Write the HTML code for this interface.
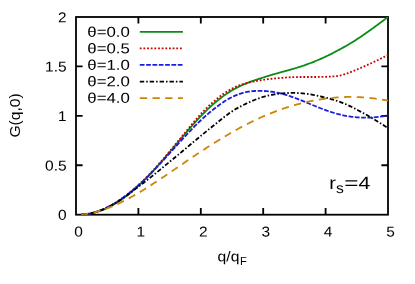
<!DOCTYPE html>
<html><head><meta charset="utf-8"><title>plot</title>
<style>
html,body{margin:0;padding:0;background:#fff;}
svg{display:block;will-change:transform;}
text{font-family:"Liberation Sans",sans-serif;fill:#000;}
</style></head><body>
<svg width="415" height="284" viewBox="0 0 415 284">
<rect x="0" y="0" width="415" height="284" fill="#fff"/>

<g fill="none" stroke="#000" stroke-width="1.8">
<rect x="76.0" y="17.0" width="312.0" height="197.7"/>
<path d="M138.40,214.7 v-6.6 M138.40,17.0 v6.6"/>
<path d="M200.80,214.7 v-6.6 M200.80,17.0 v6.6"/>
<path d="M263.20,214.7 v-6.6 M263.20,17.0 v6.6"/>
<path d="M325.60,214.7 v-6.6 M325.60,17.0 v6.6"/>
<path d="M76.0,165.27 h6.6 M388.0,165.27 h-6.6"/>
<path d="M76.0,115.85 h6.6 M388.0,115.85 h-6.6"/>
<path d="M76.0,66.43 h6.6 M388.0,66.43 h-6.6"/>
</g>
<clipPath id="c"><rect x="76.0" y="17.0" width="312.0" height="197.7"/></clipPath>
<g clip-path="url(#c)" fill="none" stroke-linejoin="round">
<path d="M80.99,214.68 L82.24,214.61 L83.49,214.52 L84.74,214.40 L85.98,214.26 L87.23,214.10 L88.48,213.90 L89.73,213.69 L90.98,213.45 L92.22,213.18 L93.47,212.89 L94.72,212.57 L95.97,212.23 L97.22,211.86 L98.46,211.46 L99.71,211.04 L100.96,210.60 L102.21,210.13 L103.46,209.63 L104.70,209.10 L105.95,208.55 L107.20,207.98 L108.45,207.38 L109.70,206.75 L110.94,206.09 L112.19,205.42 L113.44,204.71 L114.69,203.98 L115.94,203.23 L117.18,202.46 L118.43,201.66 L119.68,200.84 L120.93,199.99 L122.18,199.13 L123.42,198.24 L124.67,197.33 L125.92,196.40 L127.17,195.45 L128.42,194.47 L129.66,193.48 L130.91,192.47 L132.16,191.43 L133.41,190.37 L134.66,189.29 L135.90,188.19 L137.15,187.07 L138.40,185.93 L139.65,184.77 L140.90,183.59 L142.14,182.39 L143.39,181.17 L144.64,179.94 L145.89,178.68 L147.14,177.41 L148.38,176.12 L149.63,174.81 L150.88,173.49 L152.13,172.15 L153.38,170.80 L154.62,169.43 L155.87,168.05 L157.12,166.66 L158.37,165.26 L159.62,163.84 L160.86,162.42 L162.11,160.98 L163.36,159.54 L164.61,158.09 L165.86,156.63 L167.10,155.17 L168.35,153.70 L169.60,152.23 L170.85,150.75 L172.10,149.27 L173.34,147.79 L174.59,146.31 L175.84,144.83 L177.09,143.35 L178.34,141.87 L179.58,140.39 L180.83,138.90 L182.08,137.43 L183.33,135.95 L184.58,134.48 L185.82,133.01 L187.07,131.54 L188.32,130.08 L189.57,128.63 L190.82,127.19 L192.06,125.76 L193.31,124.34 L194.56,122.93 L195.81,121.54 L197.06,120.16 L198.30,118.80 L199.55,117.46 L200.80,116.15 L202.05,114.85 L203.30,113.58 L204.54,112.33 L205.79,111.10 L207.04,109.89 L208.29,108.70 L209.54,107.54 L210.78,106.39 L212.03,105.27 L213.28,104.17 L214.53,103.09 L215.78,102.04 L217.02,101.00 L218.27,99.99 L219.52,98.99 L220.77,98.02 L222.02,97.07 L223.26,96.15 L224.51,95.24 L225.76,94.37 L227.01,93.51 L228.26,92.68 L229.50,91.88 L230.75,91.10 L232.00,90.35 L233.25,89.62 L234.50,88.92 L235.74,88.24 L236.99,87.59 L238.24,86.96 L239.49,86.35 L240.74,85.76 L241.98,85.19 L243.23,84.64 L244.48,84.10 L245.73,83.58 L246.98,83.08 L248.22,82.59 L249.47,82.12 L250.72,81.65 L251.97,81.20 L253.22,80.76 L254.46,80.33 L255.71,79.90 L256.96,79.49 L258.21,79.08 L259.46,78.68 L260.70,78.28 L261.95,77.89 L263.20,77.50 L264.45,77.11 L265.70,76.72 L266.94,76.34 L268.19,75.96 L269.44,75.58 L270.69,75.20 L271.94,74.83 L273.18,74.46 L274.43,74.10 L275.68,73.74 L276.93,73.38 L278.18,73.03 L279.42,72.68 L280.67,72.33 L281.92,71.99 L283.17,71.64 L284.42,71.30 L285.66,70.96 L286.91,70.62 L288.16,70.28 L289.41,69.93 L290.66,69.58 L291.90,69.23 L293.15,68.87 L294.40,68.50 L295.65,68.13 L296.90,67.75 L298.14,67.36 L299.39,66.96 L300.64,66.56 L301.89,66.15 L303.14,65.73 L304.38,65.30 L305.63,64.86 L306.88,64.41 L308.13,63.96 L309.38,63.50 L310.62,63.02 L311.87,62.54 L313.12,62.05 L314.37,61.55 L315.62,61.04 L316.86,60.52 L318.11,60.00 L319.36,59.46 L320.61,58.91 L321.86,58.36 L323.10,57.79 L324.35,57.22 L325.60,56.64 L326.85,56.05 L328.10,55.45 L329.34,54.84 L330.59,54.22 L331.84,53.59 L333.09,52.96 L334.34,52.31 L335.58,51.66 L336.83,51.00 L338.08,50.33 L339.33,49.66 L340.58,48.98 L341.82,48.29 L343.07,47.59 L344.32,46.88 L345.57,46.17 L346.82,45.45 L348.06,44.72 L349.31,43.98 L350.56,43.23 L351.81,42.47 L353.06,41.71 L354.30,40.93 L355.55,40.14 L356.80,39.34 L358.05,38.53 L359.30,37.71 L360.54,36.88 L361.79,36.04 L363.04,35.19 L364.29,34.33 L365.54,33.46 L366.78,32.59 L368.03,31.70 L369.28,30.81 L370.53,29.92 L371.78,29.02 L373.02,28.11 L374.27,27.20 L375.52,26.29 L376.77,25.37 L378.02,24.44 L379.26,23.52 L380.51,22.59 L381.76,21.66 L383.01,20.73 L384.26,19.80 L385.50,18.86 L386.75,17.93 L388.00,17.00" stroke="#0a8c14" stroke-width="1.8"/>
<path d="M80.99,214.66 L82.24,214.58 L83.49,214.47 L84.74,214.34 L85.98,214.17 L87.23,213.99 L88.48,213.77 L89.73,213.53 L90.98,213.26 L92.22,212.97 L93.47,212.65 L94.72,212.30 L95.97,211.92 L97.22,211.52 L98.46,211.10 L99.71,210.64 L100.96,210.17 L102.21,209.66 L103.46,209.13 L104.70,208.57 L105.95,207.99 L107.20,207.39 L108.45,206.75 L109.70,206.09 L110.94,205.41 L112.19,204.70 L113.44,203.97 L114.69,203.22 L115.94,202.45 L117.18,201.65 L118.43,200.83 L119.68,199.99 L120.93,199.13 L122.18,198.24 L123.42,197.34 L124.67,196.42 L125.92,195.48 L127.17,194.53 L128.42,193.55 L129.66,192.55 L130.91,191.53 L132.16,190.50 L133.41,189.45 L134.66,188.37 L135.90,187.28 L137.15,186.17 L138.40,185.04 L139.65,183.90 L140.90,182.73 L142.14,181.55 L143.39,180.35 L144.64,179.13 L145.89,177.89 L147.14,176.64 L148.38,175.37 L149.63,174.08 L150.88,172.77 L152.13,171.44 L153.38,170.10 L154.62,168.75 L155.87,167.37 L157.12,165.98 L158.37,164.58 L159.62,163.16 L160.86,161.73 L162.11,160.29 L163.36,158.83 L164.61,157.37 L165.86,155.90 L167.10,154.42 L168.35,152.93 L169.60,151.44 L170.85,149.94 L172.10,148.43 L173.34,146.93 L174.59,145.41 L175.84,143.90 L177.09,142.38 L178.34,140.86 L179.58,139.33 L180.83,137.81 L182.08,136.28 L183.33,134.75 L184.58,133.22 L185.82,131.69 L187.07,130.16 L188.32,128.64 L189.57,127.12 L190.82,125.61 L192.06,124.10 L193.31,122.62 L194.56,121.14 L195.81,119.68 L197.06,118.25 L198.30,116.83 L199.55,115.44 L200.80,114.07 L202.05,112.73 L203.30,111.42 L204.54,110.14 L205.79,108.88 L207.04,107.65 L208.29,106.45 L209.54,105.28 L210.78,104.12 L212.03,103.00 L213.28,101.89 L214.53,100.82 L215.78,99.76 L217.02,98.73 L218.27,97.72 L219.52,96.74 L220.77,95.78 L222.02,94.85 L223.26,93.95 L224.51,93.08 L225.76,92.24 L227.01,91.44 L228.26,90.66 L229.50,89.93 L230.75,89.23 L232.00,88.57 L233.25,87.94 L234.50,87.36 L235.74,86.81 L236.99,86.29 L238.24,85.81 L239.49,85.35 L240.74,84.92 L241.98,84.51 L243.23,84.13 L244.48,83.77 L245.73,83.42 L246.98,83.09 L248.22,82.78 L249.47,82.47 L250.72,82.18 L251.97,81.90 L253.22,81.64 L254.46,81.38 L255.71,81.14 L256.96,80.90 L258.21,80.68 L259.46,80.46 L260.70,80.25 L261.95,80.06 L263.20,79.87 L264.45,79.69 L265.70,79.52 L266.94,79.35 L268.19,79.19 L269.44,79.04 L270.69,78.90 L271.94,78.76 L273.18,78.63 L274.43,78.50 L275.68,78.38 L276.93,78.26 L278.18,78.15 L279.42,78.03 L280.67,77.93 L281.92,77.82 L283.17,77.73 L284.42,77.63 L285.66,77.54 L286.91,77.46 L288.16,77.38 L289.41,77.31 L290.66,77.25 L291.90,77.19 L293.15,77.14 L294.40,77.10 L295.65,77.07 L296.90,77.04 L298.14,77.02 L299.39,77.01 L300.64,77.00 L301.89,76.99 L303.14,76.99 L304.38,76.99 L305.63,76.99 L306.88,77.00 L308.13,77.00 L309.38,77.00 L310.62,77.00 L311.87,77.00 L313.12,77.00 L314.37,76.99 L315.62,76.98 L316.86,76.97 L318.11,76.95 L319.36,76.94 L320.61,76.92 L321.86,76.89 L323.10,76.87 L324.35,76.84 L325.60,76.80 L326.85,76.77 L328.10,76.73 L329.34,76.67 L330.59,76.61 L331.84,76.53 L333.09,76.44 L334.34,76.33 L335.58,76.19 L336.83,76.03 L338.08,75.84 L339.33,75.62 L340.58,75.36 L341.82,75.07 L343.07,74.75 L344.32,74.39 L345.57,74.00 L346.82,73.58 L348.06,73.14 L349.31,72.67 L350.56,72.19 L351.81,71.69 L353.06,71.18 L354.30,70.65 L355.55,70.12 L356.80,69.59 L358.05,69.05 L359.30,68.51 L360.54,67.97 L361.79,67.43 L363.04,66.88 L364.29,66.33 L365.54,65.78 L366.78,65.22 L368.03,64.66 L369.28,64.10 L370.53,63.53 L371.78,62.96 L373.02,62.38 L374.27,61.80 L375.52,61.21 L376.77,60.61 L378.02,60.01 L379.26,59.41 L380.51,58.79 L381.76,58.17 L383.01,57.54 L384.26,56.91 L385.50,56.27 L386.75,55.62 L388.00,54.96" stroke="#c80000" stroke-width="1.8" stroke-dasharray="1.8 1.85"/>
<path d="M80.99,214.67 L82.24,214.59 L83.49,214.48 L84.74,214.35 L85.98,214.18 L87.23,213.99 L88.48,213.78 L89.73,213.53 L90.98,213.26 L92.22,212.97 L93.47,212.64 L94.72,212.29 L95.97,211.92 L97.22,211.51 L98.46,211.09 L99.71,210.63 L100.96,210.15 L102.21,209.65 L103.46,209.12 L104.70,208.57 L105.95,207.99 L107.20,207.39 L108.45,206.76 L109.70,206.11 L110.94,205.43 L112.19,204.73 L113.44,204.01 L114.69,203.27 L115.94,202.50 L117.18,201.71 L118.43,200.90 L119.68,200.07 L120.93,199.21 L122.18,198.34 L123.42,197.45 L124.67,196.53 L125.92,195.60 L127.17,194.64 L128.42,193.67 L129.66,192.68 L130.91,191.67 L132.16,190.64 L133.41,189.59 L134.66,188.53 L135.90,187.45 L137.15,186.35 L138.40,185.24 L139.65,184.11 L140.90,182.97 L142.14,181.81 L143.39,180.64 L144.64,179.45 L145.89,178.25 L147.14,177.04 L148.38,175.81 L149.63,174.57 L150.88,173.31 L152.13,172.04 L153.38,170.76 L154.62,169.47 L155.87,168.17 L157.12,166.85 L158.37,165.53 L159.62,164.20 L160.86,162.86 L162.11,161.51 L163.36,160.16 L164.61,158.80 L165.86,157.43 L167.10,156.06 L168.35,154.69 L169.60,153.31 L170.85,151.94 L172.10,150.56 L173.34,149.18 L174.59,147.81 L175.84,146.43 L177.09,145.05 L178.34,143.68 L179.58,142.31 L180.83,140.95 L182.08,139.59 L183.33,138.23 L184.58,136.89 L185.82,135.54 L187.07,134.21 L188.32,132.88 L189.57,131.56 L190.82,130.26 L192.06,128.96 L193.31,127.68 L194.56,126.41 L195.81,125.15 L197.06,123.91 L198.30,122.69 L199.55,121.49 L200.80,120.30 L202.05,119.13 L203.30,117.98 L204.54,116.85 L205.79,115.74 L207.04,114.65 L208.29,113.58 L209.54,112.52 L210.78,111.49 L212.03,110.47 L213.28,109.47 L214.53,108.49 L215.78,107.53 L217.02,106.58 L218.27,105.66 L219.52,104.75 L220.77,103.87 L222.02,103.01 L223.26,102.17 L224.51,101.35 L225.76,100.57 L227.01,99.81 L228.26,99.08 L229.50,98.38 L230.75,97.71 L232.00,97.07 L233.25,96.46 L234.50,95.89 L235.74,95.36 L236.99,94.85 L238.24,94.38 L239.49,93.94 L240.74,93.53 L241.98,93.15 L243.23,92.81 L244.48,92.49 L245.73,92.20 L246.98,91.95 L248.22,91.72 L249.47,91.52 L250.72,91.35 L251.97,91.21 L253.22,91.09 L254.46,90.99 L255.71,90.92 L256.96,90.88 L258.21,90.85 L259.46,90.84 L260.70,90.86 L261.95,90.89 L263.20,90.94 L264.45,91.01 L265.70,91.09 L266.94,91.19 L268.19,91.31 L269.44,91.44 L270.69,91.59 L271.94,91.76 L273.18,91.95 L274.43,92.15 L275.68,92.38 L276.93,92.62 L278.18,92.88 L279.42,93.16 L280.67,93.46 L281.92,93.77 L283.17,94.11 L284.42,94.46 L285.66,94.82 L286.91,95.20 L288.16,95.60 L289.41,96.01 L290.66,96.43 L291.90,96.86 L293.15,97.31 L294.40,97.76 L295.65,98.23 L296.90,98.70 L298.14,99.18 L299.39,99.67 L300.64,100.16 L301.89,100.66 L303.14,101.17 L304.38,101.68 L305.63,102.19 L306.88,102.70 L308.13,103.22 L309.38,103.73 L310.62,104.24 L311.87,104.76 L313.12,105.27 L314.37,105.78 L315.62,106.28 L316.86,106.78 L318.11,107.28 L319.36,107.77 L320.61,108.25 L321.86,108.73 L323.10,109.20 L324.35,109.66 L325.60,110.12 L326.85,110.56 L328.10,111.00 L329.34,111.42 L330.59,111.84 L331.84,112.24 L333.09,112.64 L334.34,113.01 L335.58,113.38 L336.83,113.74 L338.08,114.08 L339.33,114.40 L340.58,114.71 L341.82,115.01 L343.07,115.29 L344.32,115.55 L345.57,115.80 L346.82,116.03 L348.06,116.25 L349.31,116.45 L350.56,116.64 L351.81,116.81 L353.06,116.96 L354.30,117.10 L355.55,117.22 L356.80,117.33 L358.05,117.43 L359.30,117.50 L360.54,117.57 L361.79,117.61 L363.04,117.65 L364.29,117.67 L365.54,117.67 L366.78,117.66 L368.03,117.63 L369.28,117.59 L370.53,117.54 L371.78,117.47 L373.02,117.39 L374.27,117.29 L375.52,117.18 L376.77,117.06 L378.02,116.92 L379.26,116.77 L380.51,116.61 L381.76,116.43 L383.01,116.24 L384.26,116.04 L385.50,115.82 L386.75,115.60 L388.00,115.36" stroke="#1c1cdc" stroke-width="1.8" stroke-dasharray="4.75 1.58"/>
<path d="M80.99,214.62 L82.24,214.54 L83.49,214.43 L84.74,214.30 L85.98,214.14 L87.23,213.96 L88.48,213.75 L89.73,213.52 L90.98,213.26 L92.22,212.97 L93.47,212.66 L94.72,212.33 L95.97,211.97 L97.22,211.59 L98.46,211.17 L99.71,210.74 L100.96,210.28 L102.21,209.79 L103.46,209.28 L104.70,208.74 L105.95,208.17 L107.20,207.58 L108.45,206.97 L109.70,206.33 L110.94,205.66 L112.19,204.97 L113.44,204.26 L114.69,203.53 L115.94,202.78 L117.18,202.00 L118.43,201.21 L119.68,200.40 L120.93,199.57 L122.18,198.72 L123.42,197.86 L124.67,196.98 L125.92,196.09 L127.17,195.19 L128.42,194.27 L129.66,193.35 L130.91,192.41 L132.16,191.48 L133.41,190.53 L134.66,189.58 L135.90,188.63 L137.15,187.68 L138.40,186.73 L139.65,185.77 L140.90,184.82 L142.14,183.87 L143.39,182.92 L144.64,181.96 L145.89,181.01 L147.14,180.05 L148.38,179.08 L149.63,178.11 L150.88,177.14 L152.13,176.15 L153.38,175.16 L154.62,174.17 L155.87,173.16 L157.12,172.15 L158.37,171.13 L159.62,170.10 L160.86,169.07 L162.11,168.04 L163.36,167.00 L164.61,165.96 L165.86,164.92 L167.10,163.89 L168.35,162.85 L169.60,161.82 L170.85,160.78 L172.10,159.75 L173.34,158.73 L174.59,157.70 L175.84,156.68 L177.09,155.65 L178.34,154.63 L179.58,153.60 L180.83,152.58 L182.08,151.55 L183.33,150.52 L184.58,149.48 L185.82,148.45 L187.07,147.40 L188.32,146.36 L189.57,145.31 L190.82,144.26 L192.06,143.22 L193.31,142.17 L194.56,141.12 L195.81,140.07 L197.06,139.03 L198.30,137.99 L199.55,136.95 L200.80,135.92 L202.05,134.89 L203.30,133.87 L204.54,132.85 L205.79,131.83 L207.04,130.82 L208.29,129.81 L209.54,128.80 L210.78,127.79 L212.03,126.79 L213.28,125.78 L214.53,124.77 L215.78,123.77 L217.02,122.76 L218.27,121.75 L219.52,120.75 L220.77,119.74 L222.02,118.75 L223.26,117.77 L224.51,116.80 L225.76,115.84 L227.01,114.91 L228.26,113.99 L229.50,113.10 L230.75,112.24 L232.00,111.40 L233.25,110.60 L234.50,109.82 L235.74,109.07 L236.99,108.35 L238.24,107.66 L239.49,106.98 L240.74,106.33 L241.98,105.69 L243.23,105.07 L244.48,104.46 L245.73,103.87 L246.98,103.29 L248.22,102.71 L249.47,102.15 L250.72,101.59 L251.97,101.05 L253.22,100.52 L254.46,100.00 L255.71,99.49 L256.96,99.01 L258.21,98.54 L259.46,98.09 L260.70,97.66 L261.95,97.25 L263.20,96.87 L264.45,96.51 L265.70,96.18 L266.94,95.86 L268.19,95.57 L269.44,95.30 L270.69,95.05 L271.94,94.82 L273.18,94.60 L274.43,94.40 L275.68,94.21 L276.93,94.04 L278.18,93.88 L279.42,93.73 L280.67,93.60 L281.92,93.47 L283.17,93.36 L284.42,93.25 L285.66,93.16 L286.91,93.09 L288.16,93.02 L289.41,92.97 L290.66,92.94 L291.90,92.92 L293.15,92.91 L294.40,92.92 L295.65,92.94 L296.90,92.98 L298.14,93.03 L299.39,93.10 L300.64,93.19 L301.89,93.29 L303.14,93.40 L304.38,93.53 L305.63,93.68 L306.88,93.84 L308.13,94.01 L309.38,94.20 L310.62,94.40 L311.87,94.62 L313.12,94.85 L314.37,95.09 L315.62,95.35 L316.86,95.61 L318.11,95.88 L319.36,96.16 L320.61,96.45 L321.86,96.75 L323.10,97.05 L324.35,97.35 L325.60,97.66 L326.85,97.97 L328.10,98.29 L329.34,98.61 L330.59,98.95 L331.84,99.29 L333.09,99.64 L334.34,100.00 L335.58,100.38 L336.83,100.78 L338.08,101.19 L339.33,101.62 L340.58,102.07 L341.82,102.55 L343.07,103.05 L344.32,103.57 L345.57,104.11 L346.82,104.66 L348.06,105.24 L349.31,105.83 L350.56,106.43 L351.81,107.05 L353.06,107.68 L354.30,108.32 L355.55,108.97 L356.80,109.62 L358.05,110.28 L359.30,110.95 L360.54,111.62 L361.79,112.30 L363.04,112.98 L364.29,113.67 L365.54,114.37 L366.78,115.07 L368.03,115.78 L369.28,116.50 L370.53,117.22 L371.78,117.95 L373.02,118.69 L374.27,119.43 L375.52,120.19 L376.77,120.94 L378.02,121.71 L379.26,122.48 L380.51,123.26 L381.76,124.05 L383.01,124.85 L384.26,125.65 L385.50,126.46 L386.75,127.28 L388.00,128.11" stroke="#000000" stroke-width="1.8" stroke-dasharray="4.4 2 1.5 2"/>
<path d="M80.99,214.60 L82.24,214.51 L83.49,214.40 L84.74,214.27 L85.98,214.11 L87.23,213.93 L88.48,213.72 L89.73,213.50 L90.98,213.25 L92.22,212.98 L93.47,212.70 L94.72,212.39 L95.97,212.06 L97.22,211.72 L98.46,211.36 L99.71,210.98 L100.96,210.58 L102.21,210.17 L103.46,209.74 L104.70,209.30 L105.95,208.84 L107.20,208.37 L108.45,207.89 L109.70,207.39 L110.94,206.88 L112.19,206.36 L113.44,205.82 L114.69,205.28 L115.94,204.72 L117.18,204.15 L118.43,203.57 L119.68,202.98 L120.93,202.37 L122.18,201.76 L123.42,201.14 L124.67,200.51 L125.92,199.87 L127.17,199.22 L128.42,198.56 L129.66,197.89 L130.91,197.22 L132.16,196.53 L133.41,195.83 L134.66,195.13 L135.90,194.41 L137.15,193.69 L138.40,192.95 L139.65,192.21 L140.90,191.46 L142.14,190.70 L143.39,189.93 L144.64,189.16 L145.89,188.37 L147.14,187.59 L148.38,186.79 L149.63,185.99 L150.88,185.19 L152.13,184.38 L153.38,183.57 L154.62,182.76 L155.87,181.94 L157.12,181.12 L158.37,180.30 L159.62,179.48 L160.86,178.65 L162.11,177.82 L163.36,176.99 L164.61,176.15 L165.86,175.32 L167.10,174.48 L168.35,173.63 L169.60,172.79 L170.85,171.94 L172.10,171.09 L173.34,170.24 L174.59,169.38 L175.84,168.53 L177.09,167.67 L178.34,166.82 L179.58,165.96 L180.83,165.10 L182.08,164.25 L183.33,163.39 L184.58,162.54 L185.82,161.69 L187.07,160.84 L188.32,159.99 L189.57,159.14 L190.82,158.29 L192.06,157.45 L193.31,156.61 L194.56,155.78 L195.81,154.94 L197.06,154.11 L198.30,153.28 L199.55,152.46 L200.80,151.63 L202.05,150.82 L203.30,150.00 L204.54,149.19 L205.79,148.38 L207.04,147.58 L208.29,146.77 L209.54,145.98 L210.78,145.18 L212.03,144.39 L213.28,143.60 L214.53,142.82 L215.78,142.04 L217.02,141.26 L218.27,140.49 L219.52,139.72 L220.77,138.95 L222.02,138.19 L223.26,137.43 L224.51,136.68 L225.76,135.93 L227.01,135.19 L228.26,134.45 L229.50,133.71 L230.75,132.98 L232.00,132.26 L233.25,131.54 L234.50,130.83 L235.74,130.12 L236.99,129.42 L238.24,128.73 L239.49,128.04 L240.74,127.36 L241.98,126.69 L243.23,126.02 L244.48,125.37 L245.73,124.72 L246.98,124.08 L248.22,123.44 L249.47,122.82 L250.72,122.20 L251.97,121.59 L253.22,120.99 L254.46,120.40 L255.71,119.81 L256.96,119.23 L258.21,118.66 L259.46,118.10 L260.70,117.54 L261.95,116.99 L263.20,116.44 L264.45,115.91 L265.70,115.37 L266.94,114.85 L268.19,114.33 L269.44,113.82 L270.69,113.31 L271.94,112.82 L273.18,112.33 L274.43,111.84 L275.68,111.37 L276.93,110.90 L278.18,110.44 L279.42,109.99 L280.67,109.55 L281.92,109.11 L283.17,108.68 L284.42,108.26 L285.66,107.85 L286.91,107.44 L288.16,107.05 L289.41,106.66 L290.66,106.27 L291.90,105.90 L293.15,105.53 L294.40,105.17 L295.65,104.82 L296.90,104.48 L298.14,104.14 L299.39,103.81 L300.64,103.49 L301.89,103.18 L303.14,102.87 L304.38,102.57 L305.63,102.28 L306.88,101.99 L308.13,101.72 L309.38,101.45 L310.62,101.19 L311.87,100.94 L313.12,100.69 L314.37,100.45 L315.62,100.22 L316.86,100.00 L318.11,99.79 L319.36,99.58 L320.61,99.38 L321.86,99.19 L323.10,99.00 L324.35,98.82 L325.60,98.65 L326.85,98.49 L328.10,98.33 L329.34,98.18 L330.59,98.04 L331.84,97.90 L333.09,97.78 L334.34,97.66 L335.58,97.55 L336.83,97.45 L338.08,97.36 L339.33,97.27 L340.58,97.20 L341.82,97.14 L343.07,97.08 L344.32,97.04 L345.57,97.00 L346.82,96.97 L348.06,96.96 L349.31,96.95 L350.56,96.95 L351.81,96.95 L353.06,96.97 L354.30,96.99 L355.55,97.03 L356.80,97.07 L358.05,97.12 L359.30,97.17 L360.54,97.24 L361.79,97.31 L363.04,97.39 L364.29,97.48 L365.54,97.58 L366.78,97.68 L368.03,97.80 L369.28,97.92 L370.53,98.05 L371.78,98.18 L373.02,98.33 L374.27,98.48 L375.52,98.64 L376.77,98.81 L378.02,98.99 L379.26,99.18 L380.51,99.38 L381.76,99.58 L383.01,99.79 L384.26,100.01 L385.50,100.24 L386.75,100.48 L388.00,100.73" stroke="#cd850a" stroke-width="1.8" stroke-dasharray="7.3 5.4"/>
</g>
<g fill="none">
<path d="M139.8,31.9 L182.9,31.9" stroke="#0a8c14" stroke-width="1.8"/>
<path d="M139.8,48.4 L182.9,48.4" stroke="#c80000" stroke-width="1.8" stroke-dasharray="1.8 1.85"/>
<path d="M139.8,64.95 L182.9,64.95" stroke="#1c1cdc" stroke-width="1.8" stroke-dasharray="4.75 1.58"/>
<path d="M139.8,81.6 L182.9,81.6" stroke="#000000" stroke-width="1.8" stroke-dasharray="4.4 2 1.5 2"/>
<path d="M139.8,98.1 L182.9,98.1" stroke="#cd850a" stroke-width="1.8" stroke-dasharray="7.3 5.4"/>
</g>
<text transform="matrix(1,0.0005,0,1,87.30,36.65)" font-size="14.2" textLength="42.60" lengthAdjust="spacingAndGlyphs">θ=0.0</text>
<text transform="matrix(1,0.0005,0,1,87.30,53.15)" font-size="14.2" textLength="42.60" lengthAdjust="spacingAndGlyphs">θ=0.5</text>
<text transform="matrix(1,0.0005,0,1,87.30,69.70)" font-size="14.2" textLength="42.60" lengthAdjust="spacingAndGlyphs">θ=1.0</text>
<text transform="matrix(1,0.0005,0,1,87.30,86.35)" font-size="14.2" textLength="42.60" lengthAdjust="spacingAndGlyphs">θ=2.0</text>
<text transform="matrix(1,0.0005,0,1,87.30,102.85)" font-size="14.2" textLength="42.60" lengthAdjust="spacingAndGlyphs">θ=4.0</text>
<text transform="matrix(1,0.0005,0,1,58.10,22.15)" font-size="14.2" textLength="8.50" lengthAdjust="spacingAndGlyphs">2</text>
<text transform="matrix(1,0.0005,0,1,45.00,71.58)" font-size="14.2" textLength="21.60" lengthAdjust="spacingAndGlyphs">1.5</text>
<text transform="matrix(1,0.0005,0,1,58.10,121.00)" font-size="14.2" textLength="8.50" lengthAdjust="spacingAndGlyphs">1</text>
<text transform="matrix(1,0.0005,0,1,45.00,170.42)" font-size="14.2" textLength="21.60" lengthAdjust="spacingAndGlyphs">0.5</text>
<text transform="matrix(1,0.0005,0,1,58.00,219.85)" font-size="14.2" textLength="8.60" lengthAdjust="spacingAndGlyphs">0</text>
<text transform="matrix(1,0.0005,0,1,74.20,236.60)" font-size="14.2" textLength="8.60" lengthAdjust="spacingAndGlyphs">0</text>
<text transform="matrix(1,0.0005,0,1,136.60,236.60)" font-size="14.2" textLength="8.60" lengthAdjust="spacingAndGlyphs">1</text>
<text transform="matrix(1,0.0005,0,1,199.00,236.60)" font-size="14.2" textLength="8.60" lengthAdjust="spacingAndGlyphs">2</text>
<text transform="matrix(1,0.0005,0,1,261.40,236.60)" font-size="14.2" textLength="8.60" lengthAdjust="spacingAndGlyphs">3</text>
<text transform="matrix(1,0.0005,0,1,323.80,236.60)" font-size="14.2" textLength="8.60" lengthAdjust="spacingAndGlyphs">4</text>
<text transform="matrix(1,0.0005,0,1,386.20,236.60)" font-size="14.2" textLength="8.60" lengthAdjust="spacingAndGlyphs">5</text>
<text transform="matrix(1,0.0005,0,1,217.60,261.20)" font-size="14.2" textLength="21.80" lengthAdjust="spacingAndGlyphs">q/q</text>
<text transform="matrix(1,0.0005,0,1,240.00,265.00)" font-size="11.6" textLength="6.80" lengthAdjust="spacingAndGlyphs">F</text>
<text transform="translate(20.10,137.60) rotate(-90)" font-size="14.2" textLength="44.40" lengthAdjust="spacingAndGlyphs">G(q,0)</text>
<text transform="matrix(1,0.0005,0,1,329.20,188.90)" font-size="17.8" textLength="6.60" lengthAdjust="spacingAndGlyphs">r</text>
<text transform="matrix(1,0.0005,0,1,335.90,193.10)" font-size="14.6" textLength="7.80" lengthAdjust="spacingAndGlyphs">s</text>
<text transform="matrix(1,0.0005,0,1,344.20,188.90)" font-size="17.8" textLength="14.20" lengthAdjust="spacingAndGlyphs">=</text>
<text transform="matrix(1,0.0005,0,1,358.60,188.90)" font-size="17.8" textLength="11.80" lengthAdjust="spacingAndGlyphs">4</text>
</svg></body></html>
